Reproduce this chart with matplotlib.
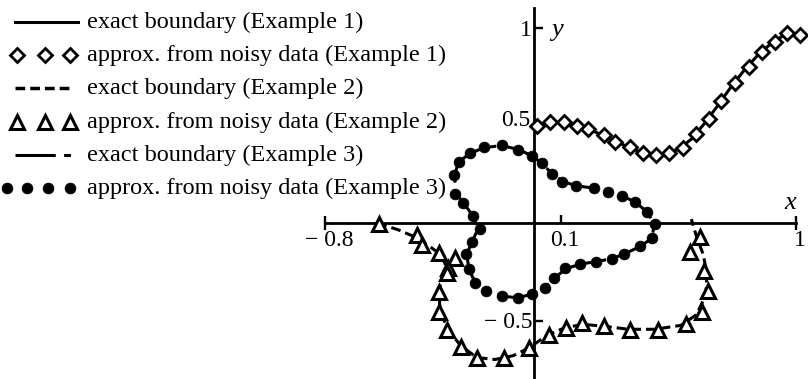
import matplotlib
matplotlib.use("Agg")
import matplotlib.pyplot as plt
from matplotlib.transforms import ScaledTranslation

plt.rcParams['font.family'] = ['Liberation Serif', 'DejaVu Serif']
plt.rcParams['lines.scale_dashes'] = False

# ---------------- data ----------------
# Example 1: exact boundary and reconstruction from noisy data
ex1_exact_x = [0.0, 0.05, 0.10, 0.15, 0.20, 0.25, 0.30, 0.35, 0.40, 0.45, 0.50,
               0.55, 0.60, 0.65, 0.70, 0.75, 0.80, 0.85, 0.90, 0.95, 0.985, 1.01]
ex1_exact_y = [0.49, 0.51, 0.515, 0.505, 0.485, 0.457, 0.425, 0.395, 0.367, 0.35, 0.352,
               0.377, 0.43, 0.51, 0.60, 0.695, 0.78, 0.855, 0.915, 0.96, 0.975, 0.965]
ex1_approx_x = [0.01, 0.058, 0.112, 0.163, 0.207, 0.267, 0.309, 0.366, 0.417, 0.464, 0.516,
                0.567, 0.618, 0.669, 0.713, 0.767, 0.822, 0.869, 0.920, 0.967, 1.015]
ex1_approx_y = [0.497, 0.52, 0.52, 0.50, 0.48, 0.45, 0.417, 0.39, 0.36, 0.349, 0.36,
                0.383, 0.455, 0.532, 0.627, 0.72, 0.80, 0.878, 0.93, 0.976, 0.964]

# Example 2
ex2_exact_x = [-0.60, -0.52, -0.45, -0.40, -0.36, -0.34, -0.35, -0.365, -0.36, -0.33,
               -0.28, -0.22, -0.15, -0.08, -0.02, 0.05, 0.12, 0.19, 0.27, 0.36, 0.46,
               0.56, 0.62, 0.655, 0.66, 0.645, 0.62, 0.60]
ex2_exact_y = [0.0, -0.035, -0.075, -0.12, -0.16, -0.21, -0.27, -0.35, -0.45, -0.55,
               -0.63, -0.69, -0.70, -0.68, -0.64, -0.575, -0.535, -0.52, -0.53, -0.545,
               -0.545, -0.525, -0.47, -0.37, -0.26, -0.16, -0.07, 0.02]
ex2_approx_x = [-0.594, -0.45, -0.429, -0.365, -0.305, -0.331, -0.333, -0.365, -0.365,
                -0.333, -0.282, -0.219, -0.117, -0.022, 0.055, 0.122, 0.182, 0.265,
                0.366, 0.472, 0.579, 0.640, 0.665, 0.649, 0.593, 0.634]
ex2_approx_y = [-0.005, -0.062, -0.113, -0.155, -0.181, -0.232, -0.258, -0.352, -0.455,
                -0.549, -0.634, -0.694, -0.694, -0.643, -0.574, -0.537, -0.515, -0.528,
                -0.549, -0.549, -0.518, -0.455, -0.347, -0.245, -0.147, -0.070]

# Example 3 (closed curve)
ex3_exact_x = [-0.305, -0.29, -0.245, -0.19, -0.125, -0.06, -0.01, 0.03, 0.068, 0.11,
               0.16, 0.225, 0.28, 0.335, 0.385, 0.43, 0.458, 0.45, 0.405, 0.345, 0.295,
               0.235, 0.175, 0.12, 0.075, 0.04, -0.01, -0.065, -0.125, -0.183, -0.225,
               -0.25, -0.258, -0.238, -0.215, -0.235, -0.27, -0.30, -0.305]
ex3_exact_y = [0.245, 0.312, 0.358, 0.387, 0.397, 0.377, 0.345, 0.305, 0.252, 0.213,
               0.191, 0.179, 0.162, 0.139, 0.108, 0.058, -0.004, -0.078, -0.12, -0.158,
               -0.184, -0.198, -0.211, -0.235, -0.285, -0.333, -0.366, -0.383, -0.375,
               -0.347, -0.307, -0.238, -0.16, -0.095, -0.03, 0.036, 0.103, 0.152, 0.245]
ex3_approx_x = [-0.308, -0.289, -0.244, -0.194, -0.123, -0.062, -0.009, 0.031, 0.068,
                0.106, 0.160, 0.228, 0.280, 0.335, 0.386, 0.430, 0.460, 0.449, 0.405,
                0.344, 0.297, 0.237, 0.176, 0.118, 0.074, 0.042, -0.009, -0.064, -0.123,
                -0.183, -0.225, -0.251, -0.263, -0.240, -0.208, -0.235, -0.272, -0.303]
ex3_approx_y = [0.246, 0.314, 0.357, 0.388, 0.400, 0.376, 0.346, 0.306, 0.251, 0.212,
                0.190, 0.180, 0.161, 0.140, 0.109, 0.058, -0.004, -0.079, -0.118, -0.159,
                -0.186, -0.198, -0.210, -0.232, -0.284, -0.335, -0.366, -0.386, -0.376,
                -0.347, -0.309, -0.238, -0.159, -0.096, -0.032, 0.036, 0.102, 0.151]

x_ticks = [-0.8, 0.1, 1.0]
x_tick_labels = ['\u2212 0.8', '0.1', '1']
y_ticks = [1.0, 0.5, -0.5]
y_tick_labels = ['1', '0.5', '\u2212 0.5']

legend_labels = ['exact boundary (Example 1)',
                 'approx. from noisy data (Example 1)',
                 'exact boundary (Example 2)',
                 'approx. from noisy data (Example 2)',
                 'exact boundary (Example 3)',
                 'approx. from noisy data (Example 3)']

# ---------------- styles ----------------
LW = 2.2
dash2 = (0, (7.0, 3.6))
dash3 = (0, (29.0, 6.0, 5.0, 6.0))
diamond = dict(marker='D', ms=6.8, mfc='white', mec='black', mew=2.0, ls='none')
triangle = dict(marker='^', ms=9.5, mfc='white', mec='black', mew=2.2, ls='none')
dot = dict(marker='o', ms=7.8, mfc='black', mec='black', mew=0.5, ls='none')

W, H = 808, 379
fig = plt.figure(figsize=(W / 100, H / 100), dpi=100)
ax = fig.add_axes([325 / W, 0, 471 / W, 370.5 / H])
ax.set_xlim(-0.8, 1.0)
ax.set_ylim(-0.8, 1.1)
ax.patch.set_visible(False)
for s in ('top', 'right'):
    ax.spines[s].set_visible(False)
ax.spines['left'].set_position(('data', 0))
ax.spines['bottom'].set_position(('data', 0))
for s in ('left', 'bottom'):
    ax.spines[s].set_linewidth(2.0)
    ax.spines[s].set_zorder(1)

ax.set_xticks(x_ticks)
ax.set_xticklabels(x_tick_labels)
ax.set_yticks(y_ticks)
ax.set_yticklabels(y_tick_labels)
ax.tick_params(axis='x', direction='in', length=6, width=1.7, pad=5, labelsize=17)
ax.tick_params(axis='y', direction='in', length=6.5, width=1.7, pad=1.5, labelsize=17)
xt = ax.xaxis.get_major_ticks()
for i in (0, len(xt) - 1):
    xt[i].tick1line.set_marker('|')
    xt[i].tick1line.set_markersize(10)
shift = ScaledTranslation(4 / 100, 0, fig.dpi_scale_trans)
for lab in ax.get_xticklabels():
    lab.set_transform(lab.get_transform() + shift)
# lift the 0.5 label clear of the curve running through the axis there
ylabs = ax.get_yticklabels()
ylabs[1].set_transform(ylabs[1].get_transform()
                       + ScaledTranslation(-2 / 100, 7 / 100, fig.dpi_scale_trans))

# curves
ax.plot(ex1_exact_x, ex1_exact_y, color='black', lw=LW, clip_on=False, zorder=2)
ax.plot(ex1_approx_x, ex1_approx_y, clip_on=False, zorder=3, **diamond)
ax.plot(ex2_exact_x, ex2_exact_y, color='black', lw=LW, ls=dash2, clip_on=False, zorder=2)
ax.plot(ex2_approx_x, ex2_approx_y, clip_on=False, zorder=3, **triangle)
ax.plot(ex3_exact_x, ex3_exact_y, color='black', lw=LW, ls=dash3, clip_on=False, zorder=2)
ax.plot(ex3_approx_x, ex3_approx_y, clip_on=False, zorder=3, **dot)

# axis names
ax.text(0.977, 0.105, 'x', fontsize=19, style='italic', ha='center', va='center')
ax.text(0.088, 0.99, 'y', fontsize=19, style='italic', ha='center', va='center')

# legend block at the upper left
lax = fig.add_axes([0, 0, 1, 1])
lax.set_xlim(0, W)
lax.set_ylim(H, 0)
lax.axis('off')
rows = [22, 55, 88, 122, 155, 188]
lax.plot([15, 78], [rows[0]] * 2, color='black', lw=LW)
lax.plot([17, 45, 70], [rows[1]] * 3, **diamond)
lax.plot([15, 72], [rows[2]] * 2, color='black', lw=LW + 0.3, ls=dash2)
lax.plot([17, 45, 70], [rows[3]] * 3, **triangle)
lax.plot([15, 72], [rows[4]] * 2, color='black', lw=LW, ls=dash3)
lax.plot([7, 27, 48, 70], [rows[5]] * 4, **dot)
for y, lab in zip(rows, legend_labels):
    lax.text(87, y, lab, fontsize=17.5, ha='left', va='center')

fig.savefig('out.png', dpi=100)
